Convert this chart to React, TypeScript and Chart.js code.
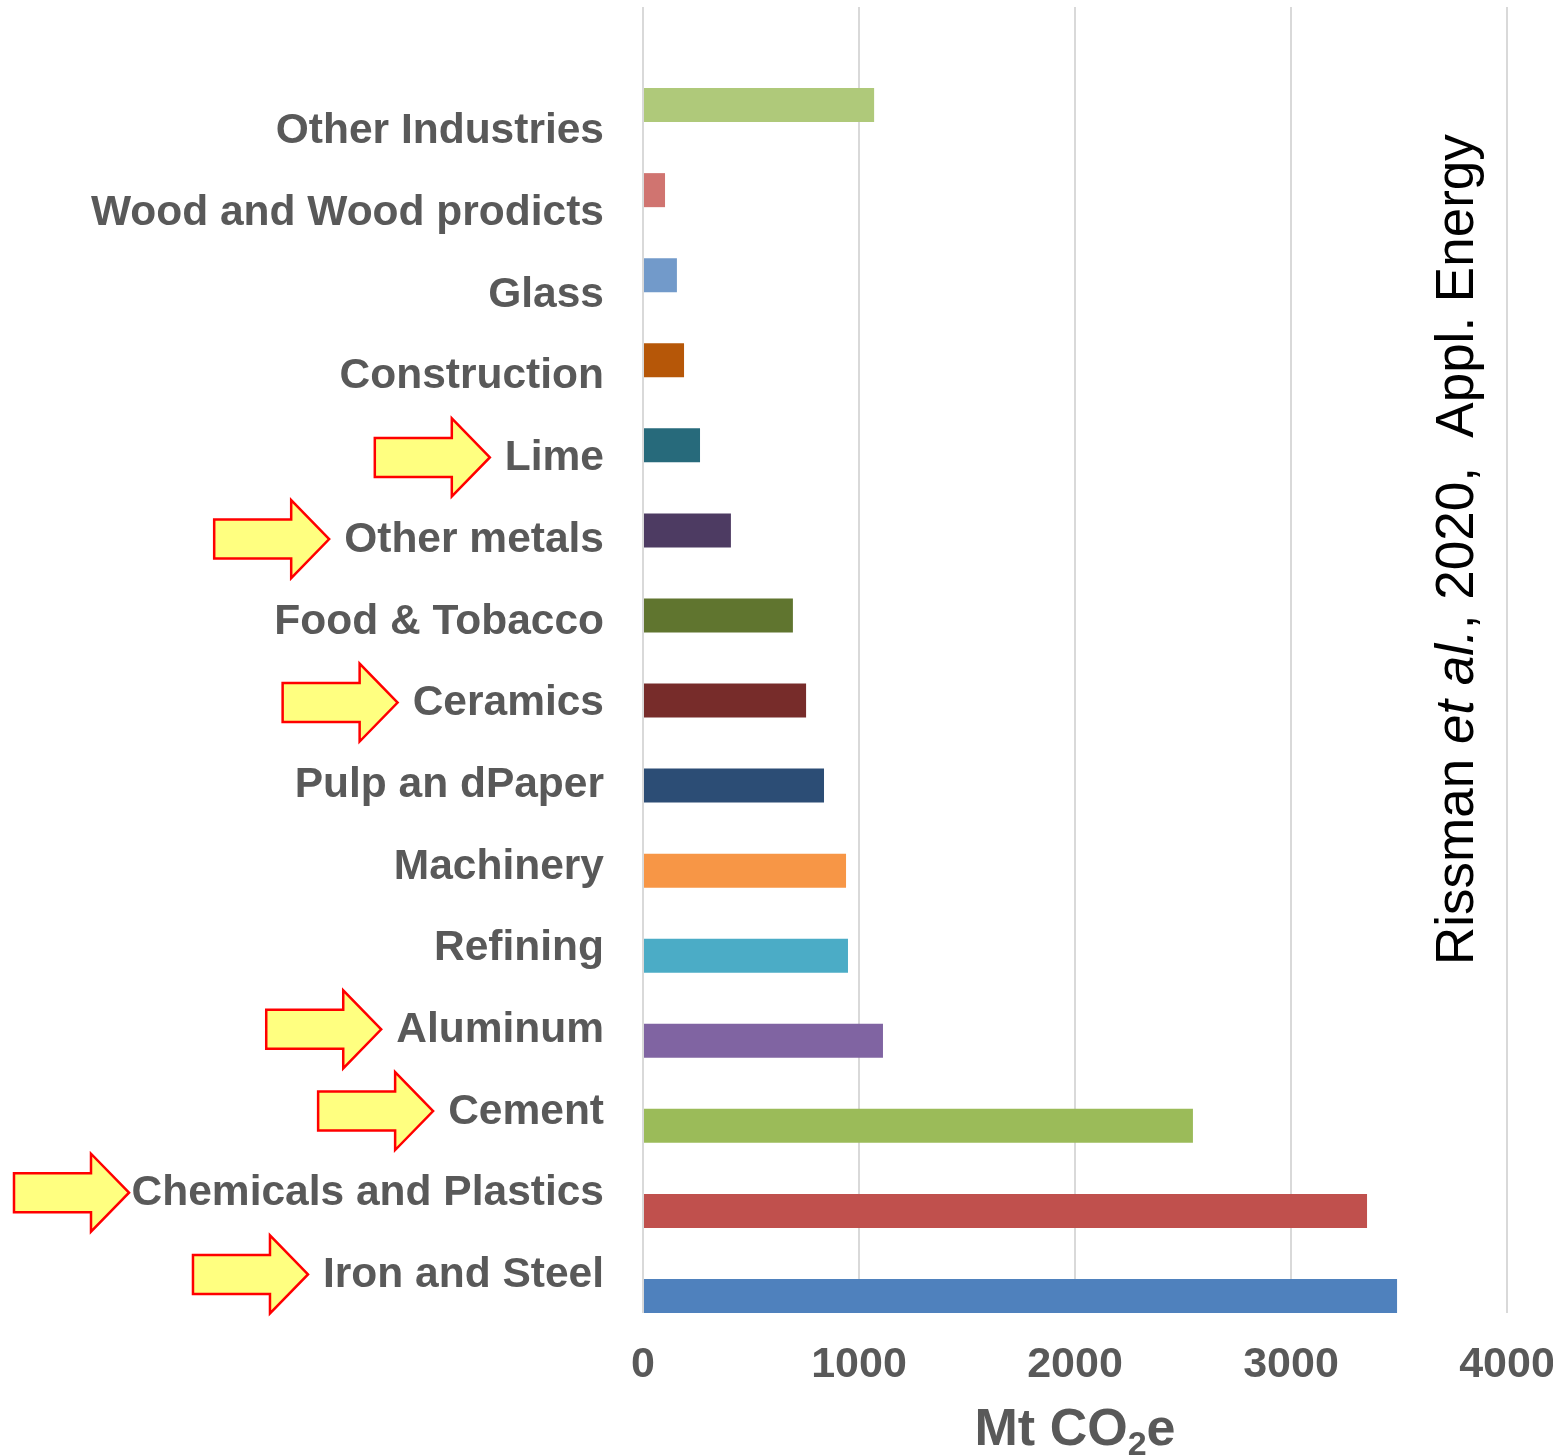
import React, { useEffect, useRef } from "react";
import { Chart, registerables } from "chart.js";

Chart.register(...registerables);

// ---- data (top to bottom as in the figure) ----
const categories = [
  "Other Industries",
  "Wood and Wood prodicts",
  "Glass",
  "Construction",
  "Lime",
  "Other metals",
  "Food & Tobacco",
  "Ceramics",
  "Pulp an dPaper",
  "Machinery",
  "Refining",
  "Aluminum",
  "Cement",
  "Chemicals and Plastics",
  "Iron and Steel",
];
const emissions = [1070, 102, 157, 190, 264, 407, 694, 755, 838, 940, 949, 1111, 2546, 3352, 3491];
const barColors = [
  "#AFC97A",
  "#D07470",
  "#729ACA",
  "#B65708",
  "#276A7B",
  "#4D3B62",
  "#60752F",
  "#772C2A",
  "#2C4D75",
  "#F79646",
  "#4BACC6",
  "#8064A2",
  "#9BBB59",
  "#C0504D",
  "#4F81BD",
];
const highlighted = [false, false, false, false, true, true, false, true, false, false, false, true, true, true, true];
const xTicks = [0, 1000, 2000, 3000, 4000];
const xTitleParts = [
  { text: "Mt CO", sub: false },
  { text: "2", sub: true },
  { text: "e", sub: false },
];
const citeParts = [
  { text: "Rissman ", italic: false },
  { text: "et al.", italic: true },
  { text: ", 2020,  Appl. Energy", italic: false },
];

const FONT = "'Liberation Sans', Arial, Helvetica, sans-serif";
const GRAY = "#595959";
const LABEL_PAD = 39;
const LABEL_SIZE = 42.5;

const zeroPadding = (s: any) => {
  s.paddingTop = 0;
  s.paddingBottom = 0;
  s.paddingLeft = 0;
  s.paddingRight = 0;
};

const arrowPlugin = {
  id: "arrows",
  afterDraw(chart: any) {
    const ctx = chart.ctx;
    const yl = chart.scales.yl;
    const area = chart.chartArea;
    ctx.save();
    ctx.font = `bold ${LABEL_SIZE}px ${FONT}`;
    highlighted.forEach((h, i) => {
      if (!h) return;
      const y = yl.getPixelForValue(i) - 1;
      const w = ctx.measureText(categories[i]).width;
      const tip = Math.max(area.left - LABEL_PAD - w - 15, 129);
      const headBase = tip - 38;
      const tail = tip - 115;
      ctx.beginPath();
      ctx.moveTo(tip, y);
      ctx.lineTo(headBase, y - 39);
      ctx.lineTo(headBase, y - 19.5);
      ctx.lineTo(tail, y - 19.5);
      ctx.lineTo(tail, y + 19.5);
      ctx.lineTo(headBase, y + 19.5);
      ctx.lineTo(headBase, y + 39);
      ctx.closePath();
      ctx.fillStyle = "#FFFF80";
      ctx.fill();
      ctx.lineWidth = 2.5;
      ctx.strokeStyle = "#FF0000";
      ctx.lineJoin = "miter";
      ctx.stroke();
    });
    ctx.restore();
  },
};

const citePlugin = {
  id: "cite",
  afterDraw(chart: any) {
    const ctx = chart.ctx;
    const area = chart.chartArea;
    ctx.save();
    ctx.translate(area.right - 34, area.top + 958);
    ctx.rotate(-Math.PI / 2);
    ctx.fillStyle = "#000000";
    ctx.textAlign = "left";
    ctx.textBaseline = "alphabetic";
    let x = 0;
    citeParts.forEach((p) => {
      ctx.font = `${p.italic ? "italic " : ""}53px ${FONT}`;
      ctx.fillText(p.text, x, 0);
      x += ctx.measureText(p.text).width;
    });
    ctx.restore();
  },
};

const titlePlugin = {
  id: "xtitle",
  afterDraw(chart: any) {
    const ctx = chart.ctx;
    const area = chart.chartArea;
    const fontFor = (sub: boolean) => `bold ${sub ? 34 : 52}px ${FONT}`;
    ctx.save();
    let total = 0;
    xTitleParts.forEach((p) => {
      ctx.font = fontFor(p.sub);
      total += ctx.measureText(p.text).width;
    });
    const cx = (area.left + area.right) / 2;
    const baseY = area.bottom + 132;
    let x = cx - total / 2;
    ctx.fillStyle = GRAY;
    ctx.textAlign = "left";
    ctx.textBaseline = "alphabetic";
    xTitleParts.forEach((p) => {
      ctx.font = fontFor(p.sub);
      ctx.fillText(p.text, x, baseY + (p.sub ? 10 : 0));
      x += ctx.measureText(p.text).width;
    });
    ctx.restore();
  },
};

export default function App() {
  const ref = useRef<HTMLCanvasElement | null>(null);

  useEffect(() => {
    document.body.style.margin = "0";
    const canvas = ref.current;
    if (!canvas) return;
    const chart = new Chart(canvas, {
      type: "bar",
      data: {
        datasets: [
          {
            data: emissions.map((v, i) => ({ x: v, y: i })) as any,
            backgroundColor: barColors,
            borderWidth: 0,
            yAxisID: "y",
            xAxisID: "x",
            categoryPercentage: 1,
            barPercentage: 0.4,
          },
        ],
      },
      options: {
        indexAxis: "y",
        animation: false,
        responsive: false,
        maintainAspectRatio: false,
        devicePixelRatio: 1,
        layout: { padding: { top: 7, right: 46, left: 0, bottom: 0 } },
        plugins: {
          legend: { display: false },
          tooltip: { enabled: false },
          title: { display: false },
        },
        scales: {
          x: {
            type: "linear",
            position: "bottom",
            min: 0,
            max: 4000,
            afterBuildTicks: (s: any) => {
              s.ticks = xTicks.map((v) => ({ value: v }));
            },
            afterFit: (s: any) => {
              s.height = 143;
              zeroPadding(s);
            },
            grid: { color: "#D9D9D9", lineWidth: 2, drawTicks: false },
            border: { display: false },
            ticks: {
              color: GRAY,
              font: { family: FONT, size: 43, weight: "bold" },
              padding: 26,
              maxRotation: 0,
              autoSkip: false,
              callback: (v: any) => String(v),
            },
            title: { display: false },
          },
          y: {
            type: "linear",
            reverse: true,
            offset: false,
            min: -1.153,
            max: 14.2,
            display: false,
            grid: { offset: false },
            afterBuildTicks: (s: any) => {
              s.ticks = categories.map((_, i) => ({ value: i }));
            },
            afterFit: zeroPadding,
          },
          yl: {
            type: "linear",
            position: "left",
            reverse: true,
            offset: false,
            min: -1.525,
            max: 14.46,
            afterBuildTicks: (s: any) => {
              s.ticks = categories.map((_, i) => ({ value: i }));
            },
            afterFit: (s: any) => {
              s.width = 643;
              zeroPadding(s);
            },
            grid: { display: false, drawTicks: false, offset: false },
            border: { display: false },
            ticks: {
              color: GRAY,
              font: { family: FONT, size: LABEL_SIZE, weight: "bold" },
              padding: LABEL_PAD,
              autoSkip: false,
              callback: (v: any) => categories[v as number] ?? "",
            },
          },
        },
      } as any,
      plugins: [arrowPlugin, citePlugin, titlePlugin],
    });
    return () => chart.destroy();
  }, []);

  return (
    <div style={{ width: 1553, height: 1456, background: "#ffffff" }}>
      <canvas ref={ref} width={1553} height={1456} style={{ display: "block" }} />
    </div>
  );
}
